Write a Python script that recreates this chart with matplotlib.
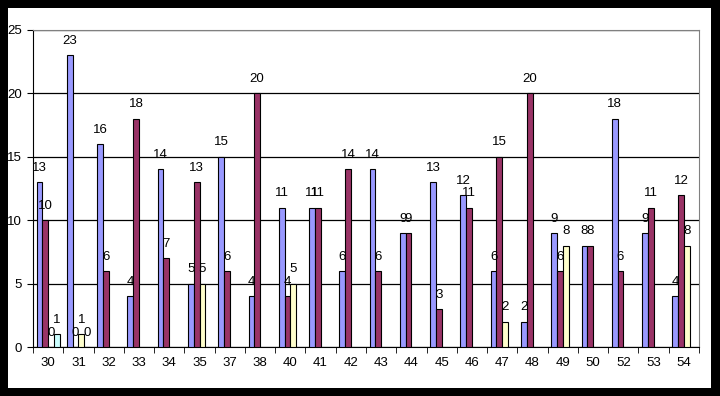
import matplotlib.pyplot as plt
import numpy as np
from matplotlib.patches import Rectangle

nan = np.nan

# Categories and series values (nan = no bar / no label)
categories = ["30", "31", "32", "33", "34", "35", "37", "38", "40", "41", "42",
              "43", "44", "45", "46", "47", "48", "49", "50", "52", "53", "54"]
series_blue = [13, 23, 16, 4, 14, 5, 15, 4, 11, 11, 6, 14, 9, 13, 12, 6, 2, 9, 8, 18, 9, 4]
series_maroon = [10, 0, 6, 18, 7, 13, 6, 20, 4, 11, 14, 6, 9, 3, 11, 15, 20, 6, 8, 6, 11, 12]
series_yellow = [0, 1, nan, nan, nan, 5, nan, nan, 5, nan, nan, nan, nan, nan, nan, 2,
                 nan, 8, nan, nan, nan, 8]
series_cyan = [1, 0, nan, nan, nan, nan, nan, nan, nan, nan, nan, nan, nan, nan, nan, nan,
               nan, nan, nan, nan, nan, nan]

all_series = [series_blue, series_maroon, series_yellow, series_cyan]
colors = ["#9999FF", "#993366", "#FFFFCC", "#CCFFFF"]

plt.rcParams["font.family"] = ["Liberation Sans", "DejaVu Sans"]

W, H = 720, 396
fig = plt.figure(figsize=(W / 100, H / 100), dpi=100, facecolor="black")
# white chart area inside the black frame
fig.patches.append(Rectangle((8 / W, 1 - 388 / H), (711 - 8) / W, (388 - 8) / H,
                             transform=fig.transFigure, facecolor="white",
                             edgecolor="none", zorder=-10))

ax = fig.add_axes([33 / W, 1 - 347 / H, (699 - 33) / W, (347 - 30) / H])
ax.set_facecolor("white")

x = np.arange(len(categories))
bw = 0.19
offsets = (np.arange(4) - 1.5) * bw

for vals, col, off in zip(all_series, colors, offsets):
    vals = np.array(vals, dtype=float)
    ax.bar(x + off, vals, width=bw, color=col, edgecolor="black", linewidth=0.8, zorder=3)
    for xi, v in zip(x + off, vals):
        if np.isnan(v):
            continue
        ax.annotate(f"{int(v)}", (xi, v), xytext=(0, 6), textcoords="offset points",
                    ha="center", va="bottom", fontsize=9.5, zorder=4)

ax.set_xlim(-0.5, len(categories) - 0.5)
ax.set_ylim(0, 25)
ax.set_yticks(range(0, 26, 5))
ax.set_xticks(x)
ax.set_xticklabels(categories)
ax.set_xticks(np.arange(len(categories) + 1) - 0.5, minor=True)
ax.tick_params(axis="x", which="major", length=0, pad=7, labelsize=9.5)
ax.tick_params(axis="x", which="minor", length=4, direction="out", color="black")
ax.tick_params(axis="y", length=4, direction="out", labelsize=9.5, pad=4)

ax.yaxis.grid(True, color="black", linewidth=0.9, zorder=1)
ax.set_axisbelow(True)

ax.spines["top"].set_color("#808080")
ax.spines["right"].set_color("#808080")
ax.spines["left"].set_color("black")
ax.spines["bottom"].set_color("black")

fig.savefig("out.png", dpi=100, facecolor=fig.get_facecolor())
